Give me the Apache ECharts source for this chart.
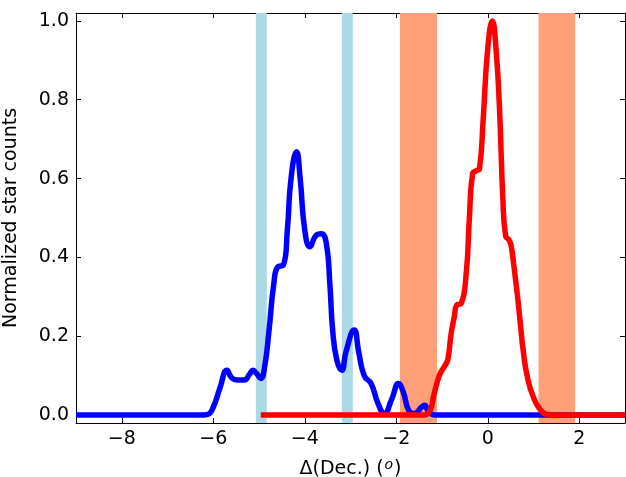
<!DOCTYPE html>
<html><head><meta charset="utf-8">
<script src="https://cdn.jsdelivr.net/npm/echarts@6/dist/echarts.min.js"></script>
<style>html,body{margin:0;padding:0;background:#fff}#c{width:626px;height:477px}</style>
</head><body><div id="c"></div>
<script>
// Data
const blueX = [-9,-6.3,-6.12,-6.0,-5.85,-5.7,-5.6,-5.47,-5.32,-5.2,-5.13,-5.05,-4.96,-4.88,-4.78,-4.68,-4.59,-4.47,-4.38,-4.3,-4.18,-4.1,-4.0,-3.885,-3.76,-3.64,-3.53,-3.45,-3.39,-3.3,-3.19,-3.1,-2.92,-2.82,-2.70,-2.55,-2.4,-2.26,-2.1,-1.95,-1.85,-1.72,-1.6,-1.45,-1.38,-1.3,-1.15,3];
const blueY = [0,0,0.002,0.02,0.07,0.114,0.095,0.089,0.089,0.105,0.114,0.105,0.093,0.12,0.216,0.33,0.376,0.38,0.47,0.6,0.668,0.6,0.47,0.427,0.455,0.46,0.437,0.33,0.216,0.14,0.114,0.16,0.216,0.16,0.10,0.08,0.03,0.004,0.04,0.08,0.06,0.01,0.004,0.02,0.025,0.01,0,0];
const redX = [-4.96,-1.45,-1.28,-1.17,-1.06,-0.95,-0.875,-0.80,-0.73,-0.68,-0.58,-0.47,-0.40,-0.33,-0.25,-0.18,-0.1,0.0,0.1,0.18,0.256,0.33,0.39,0.46,0.51,0.58,0.66,0.8,0.9,0.985,1.1,1.28,1.45,3];
const redY = [0,0,0.008,0.055,0.10,0.123,0.14,0.207,0.25,0.279,0.283,0.36,0.503,0.613,0.62,0.625,0.75,0.93,1.0,0.93,0.78,0.55,0.455,0.445,0.43,0.37,0.292,0.14,0.08,0.05,0.022,0.002,0,0];
const blueBands = [[-5.07,-4.83],[-3.19,-2.95]];
const salmonBands = [[-1.92,-1.11],[1.11,1.91]];
const xTicks = [-8,-6,-4,-2,0,2];
const yTicks = [0,0.2,0.4,0.6,0.8,1.0];
const xLabel = 'Δ(Dec.) (';
const yLabel = 'Normalized star counts';

const font = 'DejaVu Sans';
const fs = 19;
const minus = s => String(s).replace('-', '\u2212');
const zip = (a,b) => a.map((v,i)=>[v,b[i]]);

const axisCommon = {
  axisLine:{show:true,onZero:false,lineStyle:{color:'#000',width:1}},
  splitLine:{show:false},
};
const chart = echarts.init(document.getElementById('c'), null, {renderer:'canvas'});
chart.setOption({
  animation:false,
  backgroundColor:'#fff',
  grid:{left:76,right:1,top:13,bottom:54,containLabel:false,outerBoundsMode:'none'},
  xAxis:[{
    type:'value',min:-9,max:3,position:'bottom',...axisCommon,
    axisTick:{show:true,inside:true,length:5,customValues:xTicks,lineStyle:{color:'#000'}},
    axisLabel:{show:true,customValues:xTicks,formatter:v=>minus(v),fontFamily:font,fontSize:fs,color:'#000',margin:7},
    name:'{a|'+xLabel+'}{b|o}{a|)}',nameLocation:'middle',nameGap:35,
    nameTextStyle:{rich:{a:{fontFamily:font,fontSize:fs,color:'#000'},b:{fontFamily:font,fontSize:14,fontStyle:'italic',color:'#000',verticalAlign:'top',padding:[0,1,8,1]}}}
  },{
    type:'value',min:-9,max:3,position:'top',...axisCommon,
    axisTick:{show:true,inside:true,length:5,customValues:xTicks,lineStyle:{color:'#000'}},
    axisLabel:{show:false}
  }],
  yAxis:[{
    type:'value',min:-0.02,max:1.02,position:'left',...axisCommon,
    axisTick:{show:true,inside:true,length:5,customValues:yTicks,lineStyle:{color:'#000'}},
    axisLabel:{show:true,customValues:yTicks,formatter:v=>v.toFixed(1),fontFamily:font,fontSize:fs,color:'#000',margin:7},
    name:yLabel,nameLocation:'middle',nameGap:55,nameRotate:90,
    nameTextStyle:{fontFamily:font,fontSize:fs,color:'#000'}
  },{
    type:'value',min:-0.02,max:1.02,position:'right',...axisCommon,
    axisTick:{show:true,inside:true,length:5,customValues:yTicks,lineStyle:{color:'#000'}},
    axisLabel:{show:false}
  }],
  series:[
    {type:'line',data:[],z:1,silent:true,
     markArea:{silent:true,itemStyle:{color:'#ADD8E6',opacity:1},
       data:blueBands.map(b=>[{xAxis:b[0],yAxis:-0.02},{xAxis:b[1],yAxis:1.02}])}},
    {type:'line',data:[],z:1,silent:true,
     markArea:{silent:true,itemStyle:{color:'#FFA07A',opacity:1},
       data:salmonBands.map(b=>[{xAxis:b[0],yAxis:-0.02},{xAxis:b[1],yAxis:1.02}])}},
    {type:'line',data:zip(blueX,blueY),smooth:0.5,showSymbol:false,z:3,
     lineStyle:{color:'#0000FF',width:5.5,join:'round',cap:'butt'},clip:true},
    {type:'line',data:zip(redX,redY),smooth:0.5,showSymbol:false,z:4,
     lineStyle:{color:'#FF0000',width:5.5,join:'round',cap:'butt'},clip:true}
  ]
});
</script></body></html>
